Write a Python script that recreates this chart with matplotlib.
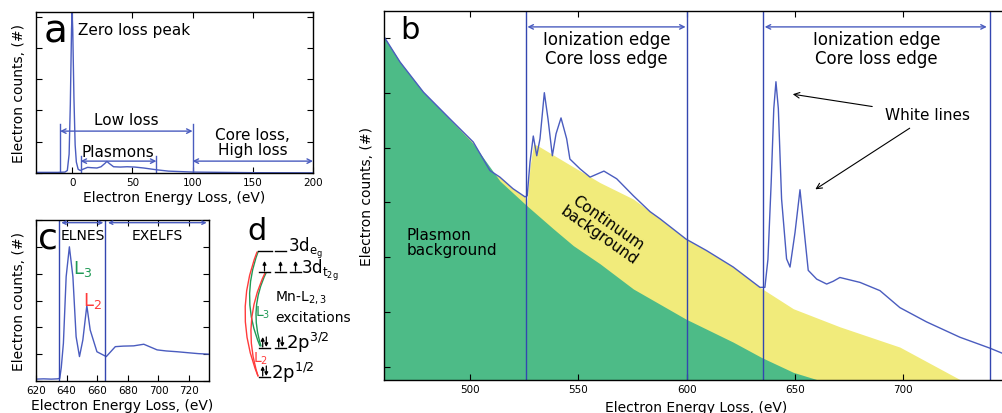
import numpy as np
import matplotlib
matplotlib.use("Agg")
import matplotlib.pyplot as plt
from matplotlib.patches import FancyArrowPatch

BLUE = "#4a5cbf"
LINE = "#3346b0"
GREEN = "#4dbb87"
YELLOW = "#f1eb7b"
L3C = "#1f9a55"
L2C = "#ff3b3b"

# ---- panel a: low loss spectrum
a_energy = [-30, -12, -6, -4, -2.5, -1.5, -0.5, 0, 0.5, 1.5, 2.5, 3.5, 5, 6.7, 9, 12.8, 16,
            20.6, 24, 27, 28.9, 31, 34.4, 40, 45.6, 52, 59.4, 65, 70.6, 80, 100, 150, 200]
a_counts = [0.02, 0.02, 0.03, 0.08, 0.6, 2.2, 4.6, 5.15, 4.6, 2.4, 0.9, 0.35, 0.12, 0.08, 0.12, 0.18,
            0.17, 0.16, 0.2, 0.3, 0.37, 0.3, 0.2, 0.19, 0.2, 0.19, 0.16, 0.13, 0.1, 0.06, 0.03, 0.01, 0.005]

# ---- panel b: core loss spectrum with fitted backgrounds
b_energy = [460.5, 467.7, 478.5, 490.8, 501.5, 509.2, 513.8, 519.8, 525.4, 526.4, 527.7, 529.2,
            530.8, 532.3, 534.3, 536.0, 538.0, 539.7, 542.0, 544.6, 546.1, 550.8, 555.4, 561.8,
            567.7, 575.4, 583.1, 587.7, 599.7, 609.2, 621.5, 633.8, 636.1, 637.5, 639.0, 640.2,
            641.2, 642.3, 643.8, 646.1, 647.7, 650.0, 652.3, 654.3, 656.1, 660.0, 664.6, 667.6,
            670.7, 680.0, 689.2, 698.4, 710.7, 726.1, 740.0, 748.0]
b_counts = [6.25, 5.80, 5.25, 4.76, 4.34, 3.82, 3.70, 3.49, 3.34, 3.36, 3.98, 4.45,
            4.09, 4.40, 5.24, 4.76, 4.09, 4.49, 4.78, 4.40, 4.03, 3.85, 3.70, 3.81,
            3.67, 3.36, 3.07, 2.94, 2.57, 2.36, 2.06, 1.69, 1.69, 2.2, 3.6, 4.95,
            5.44, 4.95, 3.30, 2.21, 2.06, 2.69, 3.47, 2.69, 2.0, 1.84, 1.75, 1.80,
            1.87, 1.78, 1.63, 1.32, 1.06, 0.78, 0.58, 0.45]

plasmon_energy = [460.5, 467.7, 478.5, 490.8, 501.5, 513.8, 526.2, 538.4, 547.7, 560.0, 575.4,
                  599.7, 621.5, 634.6, 649.2, 660.7]
plasmon_counts = [6.25, 5.80, 5.25, 4.75, 4.31, 3.63, 3.18, 2.76, 2.45, 2.12, 1.66,
                  1.11, 0.69, 0.41, 0.14, 0.0]

cont_energy = [460.5, 467.7, 478.5, 490.8, 501.5, 509.2, 513.8, 519.8, 525.4, 526.2, 527.7, 529.3,
               531.0, 545.0, 560.0, 575.4, 587.7, 599.7, 609.2, 621.5, 633.8, 649.2, 670.7, 698.4, 726.5]
cont_counts = [6.25, 5.80, 5.25, 4.76, 4.34, 3.82, 3.70, 3.49, 3.34, 3.18, 3.90, 4.30,
               4.28, 3.95, 3.60, 3.30, 2.94, 2.57, 2.36, 2.06, 1.69, 1.30, 0.97, 0.60, 0.0]

b_edges = [526, 600, 635, 740]

# ---- panel c: background subtracted Mn L2,3 edge
c_energy = [620, 625, 630, 634, 635.5, 636.5, 637.9, 639.7, 641.8, 644.1, 646.2, 648.4, 650.6,
            653.2, 655.4, 659.8, 665.9, 671.8, 677, 683.8, 690.4, 699.1, 705, 712.3, 720, 726, 733]
c_counts = [0.07, 0.08, 0.07, 0.08, 0.1, 0.5, 1.41, 3.89, 5.0, 3.89, 1.65, 0.91, 1.53,
            2.81, 1.90, 1.09, 0.91, 1.28, 1.30, 1.31, 1.37, 1.16, 1.12, 1.09, 1.05, 1.02, 1.0]
c_edges = [635, 665]

W, H = 1002, 414
fig = plt.figure(figsize=(W / 100, H / 100), dpi=100)


def box(l, t, r, b):
    return [l / W, 1 - b / H, (r - l) / W, (b - t) / H]


def style(ax):
    ax.tick_params(direction="in", length=4, width=0.8, top=True, right=True, labelsize=7.5, pad=3)
    for s in ax.spines.values():
        s.set_linewidth(1.0)
    ax.set_yticklabels([])


def darrow(ax, x0, x1, y, ms=8):
    ax.annotate("", xy=(x0, y), xytext=(x1, y),
                arrowprops=dict(arrowstyle="<->", color=BLUE, lw=1, shrinkA=0, shrinkB=0,
                                mutation_scale=ms))


# ---------------- a
axa = fig.add_axes(box(36, 13, 313, 174))
axa.plot(a_energy, a_counts, color=BLUE, lw=1)
axa.set_xlim(-30, 200)
axa.set_ylim(0, 5.15)
axa.set_xticks([0, 50, 100, 150, 200])
axa.set_yticks([0, 1, 2, 3, 4, 5])
style(axa)
axa.set_xlabel("Electron Energy Loss, (eV)", fontsize=10, labelpad=2)
axa.set_ylabel("Electron counts, (#)", fontsize=10, labelpad=4)
axa.text(-13.5, 4.55, "a", fontsize=28, ha="center", va="center")
axa.text(5, 4.6, "Zero loss peak", fontsize=11, ha="left", va="center")
for xv, top in [(-10, 1.57), (100, 1.57), (7, 0.54), (70, 0.54)]:
    axa.plot([xv, xv], [0, top], color=BLUE, lw=1)
darrow(axa, -10, 100, 1.34)
darrow(axa, 7, 70, 0.38)
darrow(axa, 100, 200, 0.38)
axa.text(45, 1.70, "Low loss", fontsize=11, ha="center", va="center")
axa.text(38, 0.70, "Plasmons", fontsize=11, ha="center", va="center")
axa.text(150, 0.98, "Core loss,\nHigh loss", fontsize=11, ha="center", va="center", linespacing=1.0)

# ---------------- c
axc = fig.add_axes(box(36, 221, 209, 382))
axc.plot(c_energy, c_counts, color=BLUE, lw=1)
axc.set_xlim(620, 733)
axc.set_ylim(0, 6)
axc.set_xticks([620, 640, 660, 680, 700, 720])
axc.set_yticks([0, 1, 2, 3, 4, 5, 6])
style(axc)
axc.set_xlabel("Electron Energy Loss, (eV)", fontsize=10, labelpad=2)
axc.set_ylabel("Electron counts, (#)", fontsize=10, labelpad=4)
for e in c_edges:
    axc.axvline(e, color=LINE, lw=1)
darrow(axc, 636.5, 664, 5.9, ms=6)
darrow(axc, 667, 731.5, 5.9, ms=6)
axc.text(627.5, 5.35, "c", fontsize=26, ha="center", va="center")
axc.text(650.5, 5.45, "ELNES", fontsize=10, ha="center", va="center")
axc.text(699, 5.45, "EXELFS", fontsize=10, ha="center", va="center")
axc.text(644.3, 4.2, "L$_3$", fontsize=13, color=L3C, ha="left", va="center")
axc.text(650.8, 3.0, "L$_2$", fontsize=13, color=L2C, ha="left", va="center")

# ---------------- b
axb = fig.add_axes(box(384, 12, 1008, 381))
axb.fill_between(cont_energy, 0, cont_counts, color=YELLOW, lw=0)
axb.fill_between(plasmon_energy, 0, plasmon_counts, color=GREEN, lw=0)
axb.plot(b_energy, b_counts, color=BLUE, lw=1)
for e in b_edges:
    axb.axvline(e, color=LINE, lw=1)
axb.set_xlim(460.3, 748.3)
axb.set_ylim(0, 6.73)
axb.set_xticks([500, 550, 600, 650, 700])
axb.set_yticks(np.arange(0.24, 6.7, 1.0))
style(axb)
axb.set_xlabel("Electron Energy Loss, (eV)", fontsize=10, labelpad=4)
axb.set_ylabel("Electron counts, (#)", fontsize=10, labelpad=4)
axb.text(472.3, 6.39, "b", fontsize=22, ha="center", va="center")
darrow(axb, 526.5, 599.5, 6.44)
darrow(axb, 636, 738.5, 6.44)
axb.text(563, 6.04, "Ionization edge\nCore loss edge", fontsize=12, ha="center", va="center",
         linespacing=1.05)
axb.text(687.5, 6.04, "Ionization edge\nCore loss edge", fontsize=12, ha="center", va="center",
         linespacing=1.05)
axb.text(711, 4.84, "White lines", fontsize=11, ha="center", va="center")
axb.annotate("", xy=(647.7, 5.22), xytext=(686.9, 4.98),
             arrowprops=dict(arrowstyle="->", color="black", lw=0.8, mutation_scale=10))
axb.annotate("", xy=(658.3, 3.45), xytext=(704, 4.62),
             arrowprops=dict(arrowstyle="->", color="black", lw=0.8, mutation_scale=10))
axb.text(470.9, 2.51, "Plasmon\nbackground", fontsize=11, ha="left", va="center", linespacing=1.0)
axb.text(561.5, 2.76, "Continuum\nbackground", fontsize=11, ha="center", va="center",
         rotation=-35, linespacing=1.0)

# ---------------- d : energy level scheme
axd = fig.add_axes(box(235, 215, 380, 400))
axd.set_xlim(235, 380)
axd.set_ylim(400, 215)
axd.axis("off")
axd.text(257, 231, "d", fontsize=22, ha="center", va="center")

levels = {"eg": (252, [(258, 272), (275, 286)]),
          "t2g": (273, [(259, 270), (275, 286), (290, 301)]),
          "p32": (349, [(259, 270), (275, 286)]),
          "p12": (378, [(259, 270)])}
for name, (yl, segs) in levels.items():
    for x0, x1 in segs:
        axd.plot([x0, x1], [yl, yl], color="black", lw=1)


def spin(x, yb, up=True):
    y0, y1 = (yb - 1, yb - 11) if up else (yb - 11, yb - 1)
    axd.annotate("", xy=(x, y1), xytext=(x, y0),
                 arrowprops=dict(arrowstyle="-|>", color="black", lw=0.9, mutation_scale=5,
                                 shrinkA=0, shrinkB=0))


for x0, x1 in levels["t2g"][1]:
    spin((x0 + x1) / 2, 273)
for key in ["p32", "p12"]:
    yl, segs = levels[key]
    for x0, x1 in segs:
        xm = (x0 + x1) / 2
        spin(xm - 1.8, yl, True)
        spin(xm + 1.8, yl, False)

axd.text(288, 248, "3d$_{\\mathregular{e_g}}$", fontsize=12, ha="left", va="center")
axd.text(301, 270, "3d$_{\\mathregular{t_{2g}}}$", fontsize=12, ha="left", va="center")
axd.text(275, 298, "Mn-L$_{2,3}$", fontsize=10, ha="left", va="center")
axd.text(275, 318, "excitations", fontsize=10, ha="left", va="center")
axd.text(286, 343, "2p$^{3/2}$", fontsize=13, ha="left", va="center")
axd.text(271, 373, "2p$^{1/2}$", fontsize=13, ha="left", va="center")
axd.text(263, 313, "L$_3$", fontsize=10, color=L3C, ha="center", va="center")
axd.text(261, 359, "L$_2$", fontsize=10, color=L2C, ha="center", va="center")

for (p0, p1, col, rad) in [((258, 253), (260, 347), L3C, 0.2),
                           ((266, 274), (261, 347), L3C, 0.2),
                           ((257, 253), (258, 377), L2C, 0.2),
                           ((265, 274), (258, 377), L2C, 0.2)]:
    axd.add_patch(FancyArrowPatch(p0, p1, arrowstyle="-", color=col, lw=1,
                                  connectionstyle=f"arc3,rad={rad}", shrinkA=0, shrinkB=0))

fig.savefig("out.png", dpi=100)
